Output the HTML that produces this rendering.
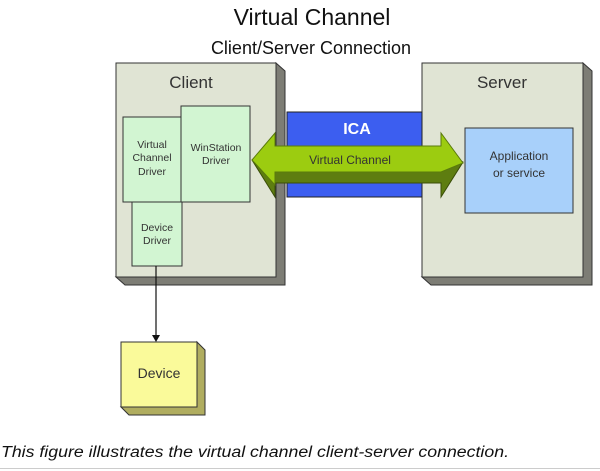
<!DOCTYPE html>
<html><head><meta charset="utf-8"><style>
html,body{margin:0;padding:0;background:#fff;width:600px;height:471px;overflow:hidden}
svg{display:block}
text{font-family:"Liberation Sans",sans-serif}
</style></head><body>
<svg width="600" height="471" viewBox="0 0 600 471" xmlns="http://www.w3.org/2000/svg">
<text x="312" y="25" font-size="23" text-anchor="middle" fill="#111">Virtual Channel</text>
<text x="311" y="54" font-size="18" text-anchor="middle" fill="#111">Client/Server Connection</text>

<!-- client box -->
<polygon points="276,63 285,71 285,285 125,285 116,277 276,277" fill="#7d7d75" stroke="#333" stroke-width="1"/>
<rect x="116" y="63" width="160" height="214" fill="#e0e4d4" stroke="#333" stroke-width="1"/>
<text x="191" y="88" font-size="17" text-anchor="middle" fill="#333">Client</text>

<!-- server box -->
<polygon points="583,63 592,71 592,285 431,285 422,277 583,277" fill="#7d7d75" stroke="#333" stroke-width="1"/>
<rect x="422" y="63" width="161" height="214" fill="#e0e4d4" stroke="#333" stroke-width="1"/>
<text x="502" y="88" font-size="17" text-anchor="middle" fill="#333">Server</text>

<!-- ICA -->
<rect x="287" y="112" width="135" height="85" fill="#3c5ef0" stroke="#222" stroke-width="1"/>
<text x="357" y="134" font-size="16" font-weight="bold" text-anchor="middle" fill="#fff">ICA</text>

<!-- drivers -->
<rect x="123" y="117" width="59" height="85" fill="#d2f5d2" stroke="#333"/>
<rect x="181" y="106" width="69" height="96" fill="#d2f5d2" stroke="#333"/>
<rect x="132" y="202" width="50" height="64" fill="#d2f5d2" stroke="#333"/>
<g font-size="10.5" fill="#333" text-anchor="middle">
<text x="152" y="148">Virtual</text>
<text x="152" y="161">Channel</text>
<text x="152" y="175">Driver</text>
<text x="216" y="151">WinStation</text>
<text x="216" y="164">Driver</text>
<text x="157" y="231">Device</text>
<text x="157" y="244">Driver</text>
</g>

<!-- application -->
<rect x="465" y="128" width="108" height="85" fill="#a8d0fa" stroke="#333"/>
<text x="519" y="160" font-size="12" text-anchor="middle" fill="#333">Application</text>
<text x="519" y="177" font-size="12" text-anchor="middle" fill="#333">or service</text>

<!-- arrow -->
<polygon points="252,160 275,140 275,160 441,160 441,150 463,162 441,197 441,183 275,183 275,197" fill="#5e7d10" stroke="#3a4d08"/>
<polygon points="252,160 275,133 275,146 441,146 441,133 463,163 441,172 275,172 275,185" fill="#9ccc10" stroke="#5a7a0c"/>
<text x="350" y="164" font-size="12" text-anchor="middle" fill="#333">Virtual Channel</text>

<!-- connector -->
<line x1="156" y1="266" x2="156" y2="336" stroke="#111" stroke-width="1.2"/>
<polygon points="152,335 160,335 156,342" fill="#111"/>

<!-- device -->
<polygon points="197,342 205,350 205,415 129,415 121,407 197,407" fill="#b0ad60" stroke="#333"/>
<rect x="121" y="342" width="76" height="65" fill="#fafa9a" stroke="#333"/>
<text x="159" y="378" font-size="14" text-anchor="middle" fill="#333">Device</text>

<text x="1" y="457" font-size="15.5" font-style="italic" fill="#111" textLength="508" lengthAdjust="spacingAndGlyphs">This figure illustrates the virtual channel client-server connection.</text>
<line x1="0" y1="468.5" x2="600" y2="468.5" stroke="#ccc"/>
</svg>
</body></html>
